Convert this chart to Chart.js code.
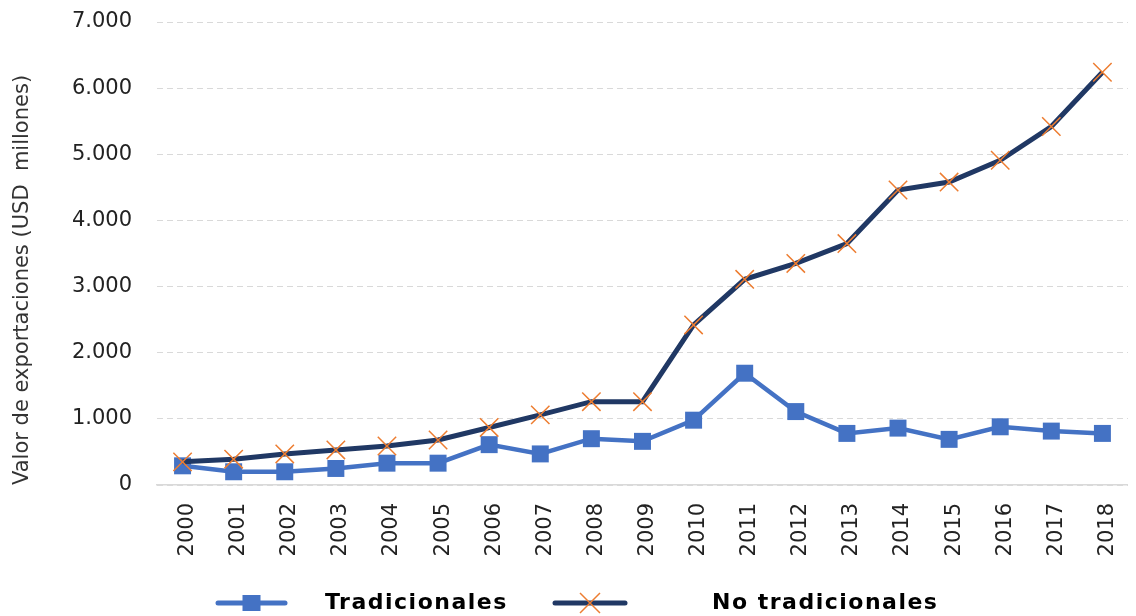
<!DOCTYPE html>
<html>
<head>
<meta charset="utf-8">
<script src="https://cdn.jsdelivr.net/npm/chart.js@4.4.1/dist/chart.umd.min.js"></script>
<style>
  html, body { margin: 0; padding: 0; background: #fff; overflow: hidden; }
</style>
</head>
<body>
<canvas id="chart" width="1146" height="616"></canvas>
<script>
// Data
var years = ['2000', '2001', '2002', '2003', '2004', '2005', '2006', '2007', '2008', '2009',
             '2010', '2011', '2012', '2013', '2014', '2015', '2016', '2017', '2018'];
var tradicionales = [290, 200, 200, 250, 330, 330, 610, 470, 700, 660,
                     980, 1690, 1110, 780, 860, 690, 880, 815, 780];
var noTradicionales = [350, 390, 470, 530, 590, 680, 870, 1060, 1260, 1260,
                       2420, 3110, 3350, 3650, 4460, 4580, 4910, 5420, 6240];
var seriesNames = ['Tradicionales', 'No tradicionales'];
var yTickLabels = ['0', '1.000', '2.000', '3.000', '4.000', '5.000', '6.000', '7.000'];
var yTitle = 'Valor de exportaciones (USD  millones)';

var H = 616;
var plotBottom = 485;

// Legend drawn under the axis labels: short line with marker, then bold name
var legendItems = [
    { from: 218, to: 285, textX: 325 },
    { from: 555, to: 625, textX: 712 }
];
var legendY = 603;

var bottomLegend = {
    id: 'bottomLegend',
    afterDraw: function(chart) {
        var c = chart.ctx;
        c.save();
        chart.data.datasets.forEach(function(ds, i) {
            var it = legendItems[i];
            var mid = (it.from + it.to) / 2;
            c.strokeStyle = ds.borderColor;
            c.lineWidth = 5;
            c.lineCap = 'round';
            c.beginPath();
            c.moveTo(it.from, legendY);
            c.lineTo(it.to, legendY);
            c.stroke();
            if (ds.pointStyle === 'rect') {
                c.fillStyle = ds.pointBackgroundColor;
                c.fillRect(mid - 9, legendY - 8, 18, 16);
            } else {
                c.strokeStyle = ds.pointBorderColor;
                c.lineWidth = 1.5;
                c.lineCap = 'butt';
                c.beginPath();
                c.moveTo(mid - 10, legendY - 10); c.lineTo(mid + 10, legendY + 10);
                c.moveTo(mid + 10, legendY - 10); c.lineTo(mid - 10, legendY + 10);
                c.stroke();
            }
            c.fillStyle = '#000';
            c.font = 'bold 22px "DejaVu Sans"';
            c.letterSpacing = '1.5px';
            c.textAlign = 'left';
            c.textBaseline = 'middle';
            c.fillText(ds.label, it.textX, legendY);
        });
        c.restore();
    }
};

var ctx = document.getElementById('chart').getContext('2d');
var chart = new Chart(ctx, {
    type: 'line',
    data: {
        labels: years,
        datasets: [{
            label: seriesNames[0],
            data: tradicionales,
            borderColor: '#4472C4',
            backgroundColor: '#4472C4',
            borderWidth: 4.5,
            pointStyle: 'rect',
            pointRadius: 12,
            pointBackgroundColor: '#4472C4',
            pointBorderWidth: 0,
            tension: 0,
            order: 1
        }, {
            label: seriesNames[1],
            data: noTradicionales,
            borderColor: '#203864',
            backgroundColor: '#203864',
            borderWidth: 5,
            pointStyle: 'crossRot',
            pointRadius: 13,
            pointBorderColor: '#ED7D31',
            pointBorderWidth: 1.5,
            tension: 0,
            order: 0
        }]
    },
    plugins: [bottomLegend],
    options: {
        responsive: false,
        animation: false,
        events: [],
        layout: { padding: { top: 22, right: 2, left: 0, bottom: 0 } },
        plugins: {
            tooltip: { enabled: false },
            legend: { display: false }
        },
        scales: {
            x: {
                offset: true,
                afterFit: function(scale) { scale.height = H - plotBottom; },
                grid: { display: true, drawOnChartArea: false, drawTicks: false },
                border: { display: true, color: '#D9D9D9', width: 1.5 },
                ticks: {
                    minRotation: 90,
                    maxRotation: 90,
                    autoSkip: false,
                    padding: 18,
                    labelOffset: 5,
                    color: '#222',
                    font: { family: '"DejaVu Sans"', size: 21 }
                }
            },
            y: {
                min: 0,
                max: 7000,
                afterFit: function(scale) {
                    scale.width = 157;
                    scale.paddingTop = 0;
                    scale.paddingBottom = 0;
                },
                grid: { color: '#D9D9D9', lineWidth: 1, drawTicks: false },
                border: { display: false, dash: [6, 4] },
                ticks: {
                    stepSize: 1000,
                    padding: 25,
                    color: '#222',
                    font: { family: '"DejaVu Sans"', size: 21 },
                    callback: function(value, index) { return yTickLabels[index]; }
                },
                title: {
                    display: true,
                    text: yTitle,
                    align: 'start',
                    color: '#333',
                    padding: { top: 10, bottom: 0 },
                    font: { family: '"DejaVu Sans"', size: 21 }
                }
            }
        }
    }
});
</script>
</body>
</html>
